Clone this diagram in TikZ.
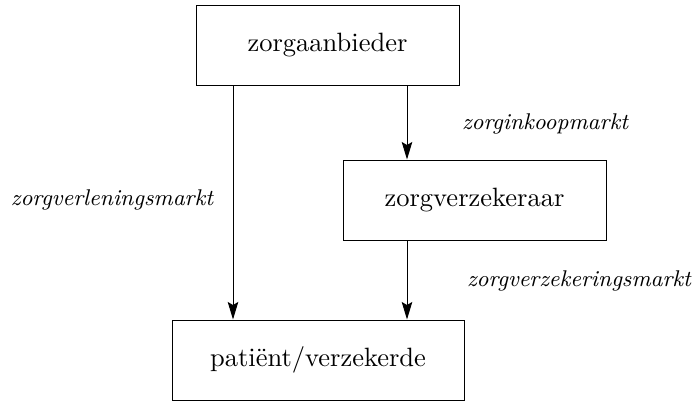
\documentclass[tikz,border=0pt]{standalone}
\usepackage{tikz}
\usetikzlibrary{arrows.meta,positioning}

\tikzset{
  kader/.style={draw,thin,minimum height=32pt,inner sep=0pt,font=\fontsize{10.6}{12}\selectfont},
  markt/.style={font=\fontsize{9.1}{10}\selectfont\itshape,inner sep=0pt},
  pijl/.style={thin,-{Stealth[length=7pt,width=4.2pt,inset=1.2pt]}}
}

\begin{document}
\begin{tikzpicture}[x=1pt,y=1pt]
\useasboundingbox (0,0) rectangle (278,161.2);
%de drie partijen
\node[kader,minimum width=105.2pt] (aanbieder) at (131,143.2) {zorgaanbieder};
\node[kader,minimum width=105.2pt] (verzekeraar) at (189.8,81.2) {zorgverzekeraar};
\node[kader,minimum width=116.8pt] (patient) at (127.2,17.2) {pati\"ent/verzekerde};
%de drie markten
\coordinate (links) at (93.2,0);
\coordinate (rechts) at (162.8,0);
\draw[pijl] (aanbieder.south -| links) -- (patient.north -| links);
\draw[pijl] (aanbieder.south -| rechts) -- (verzekeraar.north -| rechts);
\draw[pijl] (verzekeraar.south -| rechts) -- (patient.north -| rechts);
\node[markt] (verlening) at (44.8,81.2) {zorgverleningsmarkt};
\node[markt] (inkoop) at (218,111.6) {zorginkoopmarkt};
\node[markt] (verzekering) at (231.6,48.8) {zorgverzekeringsmarkt};
\end{tikzpicture}
\end{document}
